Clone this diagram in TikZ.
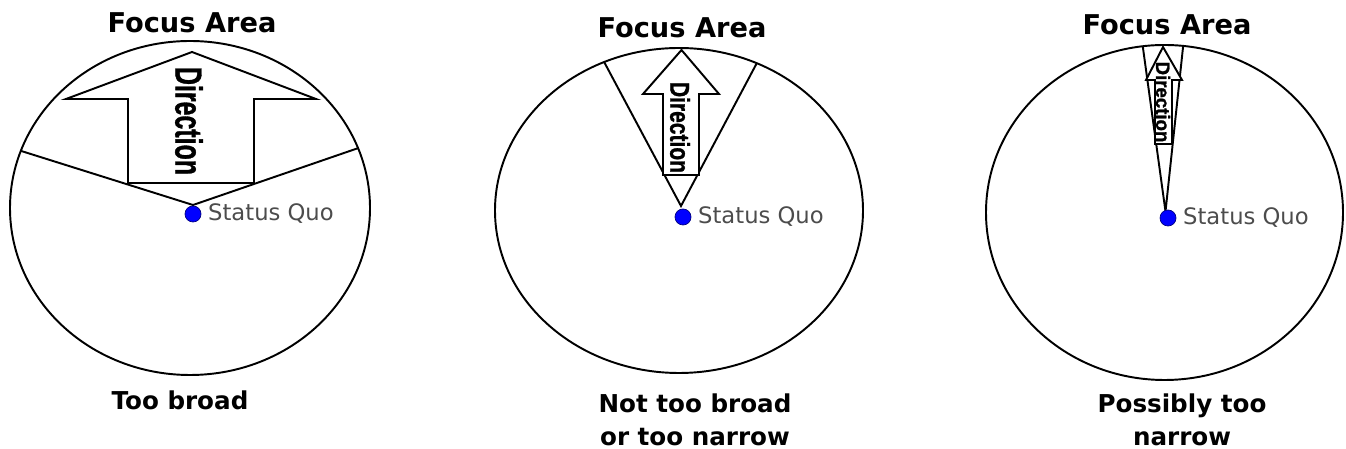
\documentclass[tikz,border=0pt]{standalone}
\usepackage{fontspec}
\setmainfont{DejaVu Sans}
\newfontfamily\narrowfont[FakeBold=1.2]{Liberation Sans Bold}
\usetikzlibrary{positioning}

\tikzset{
  rim/.style={line width=1.1pt},
  pointer/.style={line width=1.1pt, fill=white},
  quo/.style={circle, fill=blue, draw=blue!50!black, line width=0.4pt, minimum size=0.32cm, inner sep=0pt},
  quotext/.style={font=\fontsize{12.9}{15}\selectfont, text=black!70, inner sep=0pt},
  heading/.style={font=\fontsize{14}{18.8}\selectfont\bfseries, inner sep=0pt},
  areatitle/.style={heading, font=\fontsize{15.5}{18.8}\selectfont\bfseries, anchor=base},
}
\newcommand{\dirlabel}[2]{\scalebox{#1}[#2]{\narrowfont\fontsize{10}{12}\selectfont Direction}}

\begin{document}
\begin{tikzpicture}
  \useasboundingbox (0,0) rectangle (26.92,8.98);

  % Too broad
  \begin{scope}[shift={(3.80,4.82)}]
    \draw[rim] (0,0) ellipse (3.6 and 3.34);
    \coordinate (apex1) at (0.06,0.06);
    \draw[rim] (160:3.6 and 3.34) -- (apex1) -- (21:3.6 and 3.34);
    \draw[pointer] (0.04,3.12) -- (2.52,2.18) -- (1.28,2.18) -- (1.28,0.50)
      -- (-1.24,0.50) -- (-1.24,2.18) -- (-2.48,2.18) -- cycle;
    \node (dir1) [rotate=-90, inner sep=0pt] at (-0.02,1.74) {\dirlabel{1.42}{2.15}};
    \node (quo1) [quo] at (0.06,-0.12) {};
    \node (sq1) [quotext, right=0.13cm of quo1] {Status Quo};
    \node (fa1) [areatitle] at (0.04,3.50) {Focus Area};
    \node (tb1) [heading, anchor=base] at (-0.20,-4.04) {Too broad};
  \end{scope}

  % Not too broad or too narrow
  \begin{scope}[shift={(13.58,4.77)}]
    \draw[rim] (0,0) ellipse (3.68 and 3.25);
    \coordinate (apex2) at (0.04,0.09);
    \draw[rim] (114:3.68 and 3.25) -- (apex2) -- (65:3.68 and 3.25);
    \draw[pointer] (0.05,3.21) -- (0.80,2.33) -- (0.40,2.33) -- (0.40,0.71)
      -- (-0.32,0.71) -- (-0.32,2.33) -- (-0.72,2.33) -- cycle;
    \node (dir2) [rotate=-90, inner sep=0pt] at (0.02,1.66) {\dirlabel{1.195}{1.55}};
    \node (quo2) [quo] at (0.08,-0.13) {};
    \node (sq2) [quotext, right=0.13cm of quo2] {Status Quo};
    \node (fa2) [areatitle] at (0.06,3.45) {Focus Area};
    \node (nt2) [heading, align=center, anchor=north] at (0.32,-3.655) {Not too broad\\or too narrow};
  \end{scope}

  % Possibly too narrow
  \begin{scope}[shift={(23.29,4.73)}]
    \draw[rim] (0,0) ellipse (3.57 and 3.35);
    \coordinate (apex3) at (0.02,0.02);
    \draw[rim] (97:3.57 and 3.35) -- (apex3) -- (84:3.57 and 3.35);
    \draw[pointer] (-0.03,3.31) -- (0.35,2.65) -- (0.15,2.65) -- (0.15,1.37)
      -- (-0.19,1.37) -- (-0.19,2.65) -- (-0.37,2.65) -- cycle;
    \node (dir3) [rotate=-90, inner sep=0pt] at (-0.03,2.21) {\dirlabel{1.06}{1.11}};
    \node (quo3) [quo] at (0.07,-0.11) {};
    \node (sq3) [quotext, right=0.13cm of quo3] {Status Quo};
    \node (fa3) [areatitle] at (0.05,3.55) {Focus Area};
    \node (pn3) [heading, align=center, anchor=north] at (0.35,-3.62) {Possibly too\\narrow};
  \end{scope}
\end{tikzpicture}
\end{document}
